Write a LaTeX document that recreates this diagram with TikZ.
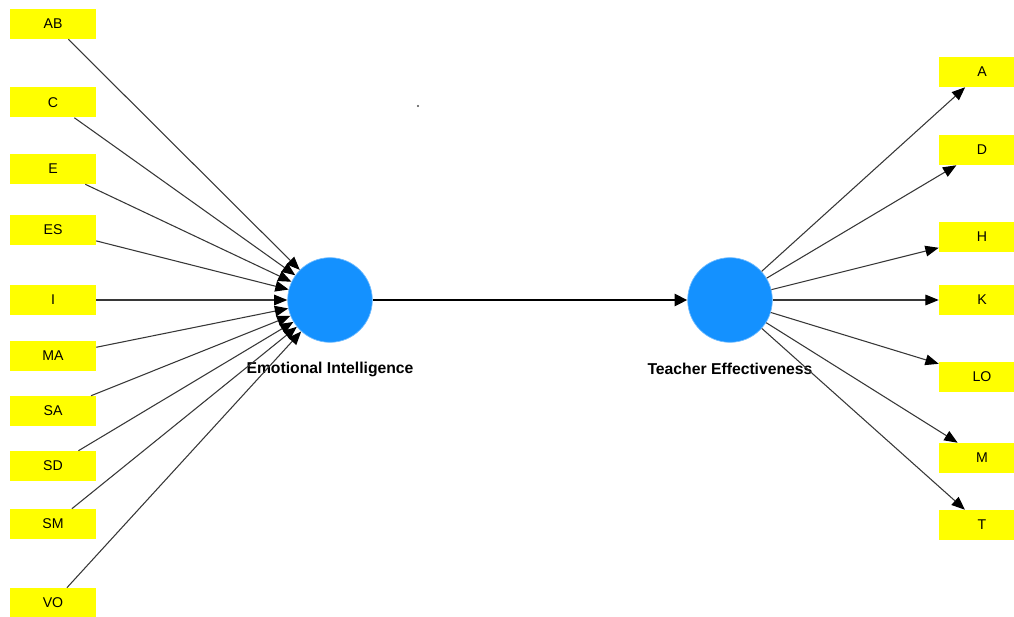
\documentclass[tikz,border=0pt]{standalone}
\usepackage{fontspec}
\setmainfont{Liberation Sans}
\usetikzlibrary{arrows.meta}
\definecolor{boxyellow}{RGB}{255,255,0}
\definecolor{lvblue}{RGB}{20,145,255}
\definecolor{linegray}{RGB}{55,55,55}
\begin{document}
\begin{tikzpicture}[x=0.75pt,y=-0.75pt,
  ind/.style={fill=boxyellow, minimum width=64.5pt, minimum height=22.5pt, inner sep=0pt, font=\fontsize{10.6}{12}\selectfont},
  lv/.style={circle, fill=lvblue, draw=lvblue!60!white, line width=0.5pt, minimum size=63.5pt, inner sep=0pt},
  lvlabel/.style={font=\bfseries\fontsize{11.8}{14}\selectfont},
  ldr/.style={draw=linegray, line width=0.8pt, -{Triangle[length=10pt,width=8pt,color=black]}},
  mainarrow/.style={draw=black, line width=1.6pt, -{Triangle[length=9.5pt,width=9pt]}}
]
\useasboundingbox (0,0) rectangle (1014,617);

% latent variables
\node[lv] (EI) at (330,300) {};
\node[lv] (TE) at (730,300) {};
\node[lvlabel] (EIl) at (330,369) {Emotional Intelligence};
\node[lvlabel] (TEl) at (730,369) {Teacher Effectiveness};

% left indicators
\node[ind] (AB) at (53,24) {AB};
\node[ind] (C) at (53,102.5) {C};
\node[ind] (E) at (53,169) {E};
\node[ind] (ES) at (53,230) {ES};
\node[ind] (I) at (53,300) {I};
\node[ind] (MA) at (53,356) {MA};
\node[ind] (SA) at (53,411) {SA};
\node[ind] (SD) at (53,466) {SD};
\node[ind] (SM) at (53,524) {SM};
\node[ind] (VO) at (53,603) {VO};

% right indicators
\node[ind] (A) at (982,72) {A};
\node[ind] (D) at (982,150) {D};
\node[ind] (H) at (982,237) {H};
\node[ind] (K) at (982,300) {K};
\node[ind] (LO) at (982,377) {LO};
\node[ind] (M) at (982,458) {M};
\node[ind] (T) at (982,525) {T};

% connectors
\foreach \n in {AB,C,E,ES,I,MA,SA,SD,SM,VO}
  \draw[ldr] (\n) -- (EI);
\foreach \n in {A,D,H,K,LO,M,T}
  \draw[ldr] (TE) -- (\n);
\draw[mainarrow] (EI) -- (TE);

% stray dot
\fill[black!70] (418,106) circle (0.9pt);
\end{tikzpicture}
\end{document}
